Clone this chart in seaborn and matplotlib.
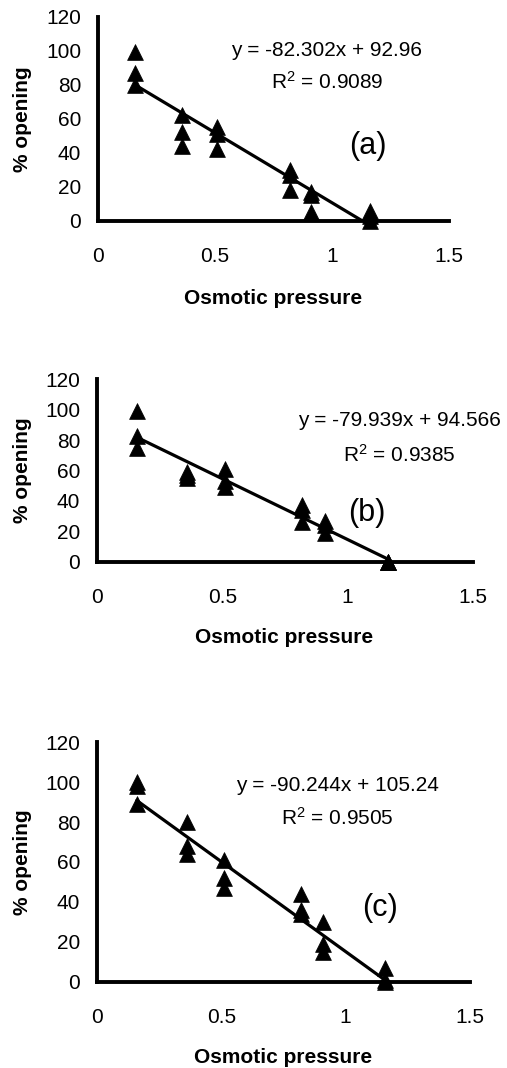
import numpy as np
import pandas as pd
import matplotlib
matplotlib.use("Agg")
import matplotlib.pyplot as plt
import seaborn as sns

# Osmotic pressure levels (three replicates each)
osmotic = [0.16, 0.36, 0.51, 0.82, 0.91, 1.16]

# % opening, one list of replicates per osmotic level
opening_a = [[99, 87, 80], [62, 52, 44], [55, 51, 42], [30, 27, 18], [17, 15, 5], [6, 3, 0]]
opening_b = [[99, 83, 75], [59, 57, 55], [61, 53, 49], [37, 34, 26], [27, 24, 19], [0, 0, 0]]
opening_c = [[100, 98, 89], [80, 68, 64], [61, 52, 47], [44, 36, 34], [30, 19, 15], [7, 1, 0]]

# Linear trendlines: slope, intercept, R^2
slopes = [-82.302, -79.939, -90.244]
intercepts = [92.96, 94.566, 105.24]
r_squared = [0.9089, 0.9385, 0.9505]
slope_txt = ["-82.302", "-79.939", "-90.244"]
intercept_txt = ["92.96", "94.566", "105.24"]
r2_txt = ["0.9089", "0.9385", "0.9505"]
panel_tags = ["(a)", "(b)", "(c)"]

x_ticks = [0, 0.5, 1, 1.5]
x_tick_labels = ["0", "0.5", "1", "1.5"]
y_ticks = [0, 20, 40, 60, 80, 100, 120]

sns.set_style("white")
plt.rcParams["font.family"] = ["Liberation Sans", "DejaVu Sans"]
plt.rcParams.update({"text.color": "black", "axes.labelcolor": "black",
                     "xtick.color": "black", "ytick.color": "black",
                     "mathtext.fontset": "custom",
                     "mathtext.rm": "Liberation Sans",
                     "mathtext.it": "Liberation Sans",
                     "mathtext.default": "regular"})

W, H = 507, 1068
fig = plt.figure(figsize=(W / 100, H / 100), dpi=100)

# axes boxes in pixels: left, right, top, bottom
boxes = [(98, 449.3, 16.7, 221.0),
         (97, 472.7, 379.3, 561.7),
         (97, 470.0, 742.3, 981.5)]

# annotation placement in data units
eq_pos = [(0.977, 100.3, 81.5), (1.208, 93.2, 70.2), (0.967, 98.2, 82.0)]
tag_pos = [(1.154, 44.0), (1.077, 32.0), (1.138, 37.1)]
xlabel_y = [-0.377, -0.418, -0.317]

for i, opening in enumerate([opening_a, opening_b, opening_c]):
    l, r, t, b = boxes[i]
    ax = fig.add_axes([l / W, 1 - b / H, (r - l) / W, (b - t) / H])

    df = pd.DataFrame({
        "x": np.repeat(osmotic, 3),
        "y": np.concatenate(opening),
    })
    trend = pd.DataFrame({"x": [min(osmotic), max(osmotic)]})
    trend["y"] = slopes[i] * trend["x"] + intercepts[i]

    sns.lineplot(data=trend, x="x", y="y", ax=ax, color="black", lw=2.3, zorder=2)
    sns.scatterplot(data=df, x="x", y="y", ax=ax, marker="^", s=130,
                    color="black", edgecolor="black", linewidth=0.5,
                    zorder=3, clip_on=False)

    ax.set_xlim(0, 1.5)
    ax.set_ylim(0, 120)
    ax.set_xticks(x_ticks)
    ax.set_xticklabels(x_tick_labels)
    ax.set_yticks(y_ticks)
    ax.tick_params(axis="both", direction="in", length=4, width=2.2,
                   labelsize=15, color="black", labelcolor="black")
    ax.tick_params(axis="x", pad=19)
    ax.tick_params(axis="y", pad=12)
    for side in ["top", "right"]:
        ax.spines[side].set_visible(False)
    for side in ["left", "bottom"]:
        ax.spines[side].set_linewidth(2.8)
        ax.spines[side].set_color("black")

    ax.set_xlabel("Osmotic pressure", fontsize=15, fontweight="bold")
    ax.set_ylabel("% opening", fontsize=15, fontweight="bold")
    ax.xaxis.label.set_va("center")
    ax.yaxis.label.set_va("center")
    ax.xaxis.set_label_coords(0.498, xlabel_y[i])
    ax.yaxis.set_label_coords((23 - l) / (r - l), 0.5)

    ex, ey1, ey2 = eq_pos[i]
    ax.text(ex, ey1, f"y = {slope_txt[i]}x + {intercept_txt[i]}",
            ha="center", va="center", fontsize=15)
    ax.text(ex, ey2, f"R$^{{2}}$ = {r2_txt[i]}", ha="center", va="center", fontsize=15)
    tx, ty = tag_pos[i]
    ax.text(tx, ty, panel_tags[i], ha="center", va="center", fontsize=22)

fig.savefig("out.png", dpi=100, facecolor="white")
